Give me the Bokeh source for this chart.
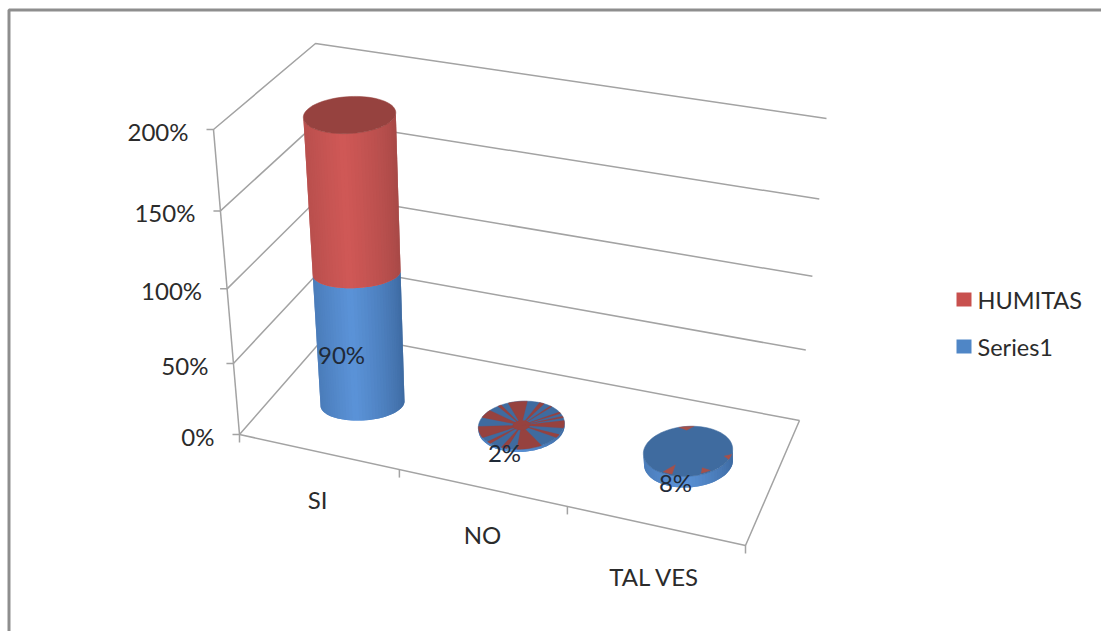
import math
import numpy as np
from bokeh.core.properties import value
from bokeh.embed import file_html
from bokeh.models import Range1d
from bokeh.plotting import figure
from bokeh.resources import INLINE

# Chart values
categories = ["SI", "NO", "TAL VES"]
series1 = [90, 2, 8]
humitas = [100, 0, 0]
value_labels = ["90%", "2%", "8%"]
y_ticks = [0, 50, 100, 150, 200]
y_tick_labels = ["0%", "50%", "100%", "150%", "200%"]

# Pixel geometry of the 3-D box: (x, y) at 0 and at the axis maximum
FRONT_LEFT = ((239, 434), (213, 129))
BACK_LEFT = ((329, 331), (315, 43))
BACK_RIGHT = ((799, 420), (826, 118))
FRONT_RIGHT = (745, 545)
CATEGORY_TICK_POS = [0, 0.316, 0.648, 1]
AXIS_MAX = 200
COLUMN_HEIGHT = 305
PERSPECTIVE = 0.91

# Column placement on the floor
BASE_X = [362, 521, 688]
BASE_Y = [403, 427.5, 462]
BASE_RX = [42, 43, 44.5]
LEVEL_RY = [[17, 15, 18.5], [24, 24, 24], [25, 25, 25]]
LEAN = -13.7
FLARE = 4.5
SHEAR = -0.05

# Red slivers showing through the flat columns' top faces: degrees counter-clockwise from east
NO_RED_SPANS = [(-12, 6), (13, 17), (24, 28), (45, 48), (58, 65), (82, 108), (118, 123),
                (137, 156), (178, 206), (218, 224), (242, 250), (264, 298), (324, 332)]
NO_HUB_SPANS = [(0, 360, 0.0, 0.2)]
TAL_RED_FLECKS = [(82, 102, 0.85, 1.0), (234, 248, 0.58, 0.95), (288, 302, 0.75, 0.95), (-24, -12, 0.85, 1.0)]

GRID = "#a3a3a3"
FRAME = "#8e8e8e"
TEXT = "#2b2b2b"
FONT = value("Lato")
FONT_SIZE = "24px"
BLUE = dict(edge="#3c689f", mid="#5b93d8", cap="#3f6b9f")
RED = dict(edge="#a54846", mid="#d05856", cap="#96423f")


def frac(v):
    t = v / AXIS_MAX
    return PERSPECTIVE * t + (1 - PERSPECTIVE) * t * t


def along(edge, v):
    (x0, y0), (x1, y1) = edge
    f = frac(v)
    return x0 + (x1 - x0) * f, y0 + (y1 - y0) * f


def face_point(cat, v, ry, radius, theta):
    """Point on a column's cross-section at value v, at a relative radius from its axis."""
    f = frac(v)
    cx = BASE_X[cat] + LEAN * f
    cy = BASE_Y[cat] - COLUMN_HEIGHT * f
    rx = BASE_RX[cat] + FLARE * f
    dx = rx * radius * np.cos(theta)
    return cx + dx, cy + ry * radius * np.sin(theta) + SHEAR * dx


def mix(a, b, t):
    ca = [int(a[i:i + 2], 16) for i in (1, 3, 5)]
    cb = [int(b[i:i + 2], 16) for i in (1, 3, 5)]
    return "#%02x%02x%02x" % tuple(round(p + (q - p) * t) for p, q in zip(ca, cb))


def draw_side(p, cat, v0, ry0, v1, ry1, palette, steps=40):
    # Painted left to right with each band overlapping the next two, so no seams show
    thetas = np.linspace(math.pi, 0, steps + 1)
    xs, ys, colors = [], [], []
    for i in range(steps):
        band = thetas[i:i + 3]
        bx, by = face_point(cat, v0, ry0, 1.0, band)
        tx, ty = face_point(cat, v1, ry1, 1.0, band[::-1])
        xs.append(list(bx) + list(tx))
        ys.append(list(by) + list(ty))
        across = (1 - math.cos(thetas[i])) / 2
        glow = max(0.0, 1 - abs(across - 0.6) / 0.6) ** 0.7
        colors.append(mix(palette["edge"], palette["mid"], glow))
    p.patches(xs, ys, fill_color=colors, line_color=None)


def draw_cap(p, cat, v, ry, color):
    x, y = face_point(cat, v, ry, 1.0, np.linspace(0, 2 * math.pi, 90))
    p.patch(x, y, fill_color=color, line_color=color, line_width=0.5)


def draw_wedges(p, cat, v, ry, spans, color):
    xs, ys = [], []
    for span in spans:
        a0, a1 = span[:2]
        r0, r1 = span[2:] if len(span) == 4 else (0.0, 1.0)
        th = -np.radians(np.linspace(a0, a1, 40 if a1 - a0 > 90 else 8))
        ox, oy = face_point(cat, v, ry, r1, th)
        ix, iy = face_point(cat, v, ry, r0, np.array([th.mean()]))
        xs.append([ix[0], *ox])
        ys.append([iy[0], *oy])
    p.patches(xs, ys, fill_color=color, line_color=color, line_width=0.3)


p = figure(width=1101, height=631, x_range=Range1d(0, 1101), y_range=Range1d(631, 0),
           x_axis_location=None, y_axis_location=None, toolbar_location=None,
           output_backend="svg", min_border=0, outline_line_color=None,
           background_fill_color="#ffffff", border_fill_color="#ffffff")
p.grid.visible = False

# Picture frame, open towards the right and bottom edges
p.line([8.5, 8.5, 1101], [631, 9.5, 9.5], line_color=FRAME, line_width=3)

# Wall and side gridlines with value ticks
for tick, label in zip(y_ticks, y_tick_labels):
    fx, fy = along(FRONT_LEFT, tick)
    bx, by = along(BACK_LEFT, tick)
    rx, ry = along(BACK_RIGHT, tick)
    p.line([fx - 7, fx, bx, rx], [fy, fy, by, ry], line_color=GRID, line_width=1.5)
    p.text([fx - 25], [fy + 2], text=[label], text_font=FONT, text_font_size=FONT_SIZE,
           text_color=TEXT, text_align="right", text_baseline="middle")

# Vertical axis, floor front edge and right edge
vx, vy = zip(along(FRONT_LEFT, 0), along(FRONT_LEFT, AXIS_MAX))
p.line(list(vx), list(vy), line_color=GRID, line_width=1.5)
x0, y0 = along(FRONT_LEFT, 0)
x1, y1 = along(BACK_RIGHT, 0)
p.line([x0, FRONT_RIGHT[0], x1], [y0, FRONT_RIGHT[1], y1], line_color=GRID, line_width=1.5)

# Category ticks along the front edge
for t in CATEGORY_TICK_POS:
    tx = x0 + (FRONT_RIGHT[0] - x0) * t
    ty = y0 + (FRONT_RIGHT[1] - y0) * t
    p.line([tx, tx], [ty, ty + 8], line_color=GRID, line_width=1.5)

# Stacked cylinders
for i in range(len(categories)):
    levels = [0, series1[i], series1[i] + humitas[i]]
    ry0, ry1, ry2 = LEVEL_RY[i]
    draw_side(p, i, levels[0], ry0, levels[1], ry1, BLUE)
    if humitas[i] > 0:
        draw_side(p, i, levels[1], ry1, levels[2], ry2, RED)
        draw_cap(p, i, levels[2], ry2, RED["cap"])
    else:
        draw_cap(p, i, levels[2], ry2, BLUE["cap"])

draw_wedges(p, 1, series1[1], LEVEL_RY[1][2], NO_RED_SPANS, RED["cap"])
draw_wedges(p, 1, series1[1], LEVEL_RY[1][2], NO_HUB_SPANS, RED["cap"])
draw_wedges(p, 2, series1[2], LEVEL_RY[2][2], TAL_RED_FLECKS, "#a5504a")

# Data labels and category labels
label_x = [341, 504, 675]
label_y = [354, 452, 482]
cat_x = [317, 482, 654]
cat_y = [499, 534, 576]
p.text(label_x, label_y, text=value_labels, text_font=FONT, text_font_size=FONT_SIZE,
       text_color="#1f2a38", text_align="center", text_baseline="middle")
p.text(cat_x, cat_y, text=categories, text_font=FONT, text_font_size=FONT_SIZE,
       text_color=TEXT, text_align="center", text_baseline="middle")

# Legend
legend_names = ["HUMITAS", "Series1"]
legend_colors = ["#c8504e", "#4f86c6"]
legend_y = [299, 346]
p.rect([963.5, 963.5], legend_y, width=15, height=14, fill_color=legend_colors, line_color=None)
p.text([977, 977], legend_y, text=legend_names, text_font=FONT, text_font_size="23.5px",
       text_color=TEXT, text_align="left", text_baseline="middle")

open("out.html", "w").write(file_html(p, INLINE))
